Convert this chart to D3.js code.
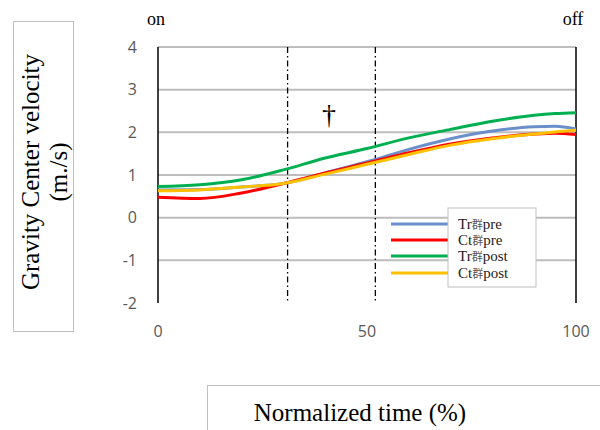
<!DOCTYPE html>
<html>
<head>
<meta charset="utf-8">
<script src="https://cdn.jsdelivr.net/npm/d3@7"></script>
<style>
  body { margin: 0; background: #fff; }
  svg { display: block; }
</style>
</head>
<body>
<div id="container"></div>
<script>
"use strict";

// normalized time (%) and mean velocity of each group (m/s)
var pct = [0, 10, 20, 30, 40, 50, 60, 70, 80, 90, 95, 100];
var trPre = [0.65, 0.66, 0.72, 0.80, 1.05, 1.31, 1.60, 1.85, 2.03, 2.13, 2.14, 2.08];
var ctPre = [0.48, 0.45, 0.58, 0.80, 1.05, 1.28, 1.52, 1.73, 1.87, 1.96, 1.98, 1.95];
var trPost = [0.73, 0.77, 0.89, 1.12, 1.40, 1.62, 1.87, 2.07, 2.26, 2.40, 2.44, 2.46];
var ctPost = [0.63, 0.65, 0.72, 0.80, 1.02, 1.25, 1.48, 1.70, 1.85, 1.96, 2.01, 2.05];

var seriesNames = ["Tr", "Ct", "Tr", "Ct"];
var seriesPhase = ["pre", "pre", "post", "post"];
var seriesColors = ["#6a8fcb", "#ff0000", "#00b050", "#ffc000"];
var yTicks = [-2, -1, 0, 1, 2, 3, 4];
var xTicks = [0, 50, 100];
var phaseLines = [31, 52];

var width = 600;
var height = 430;

var svg = d3.select("#container").append("svg")
    .attr("width", width).attr("height", height);

var x = d3.scaleLinear().domain([0, 100]).range([158, 576]);
var y = d3.scaleLinear().domain([-2, 4]).range([303, 47]);

// grid
svg.append("g").selectAll("line.grid").data(yTicks.filter(function (d) { return d > -2; }))
    .enter().append("line")
    .attr("x1", x(0)).attr("x2", x(100))
    .attr("y1", function (d) { return y(d); })
    .attr("y2", function (d) { return y(d); })
    .attr("stroke", "#bdbdbd").attr("stroke-width", 2);

// left axis and right border
svg.append("line").attr("x1", x(0)).attr("x2", x(0)).attr("y1", y(4)).attr("y2", y(-2))
    .attr("stroke", "#000").attr("stroke-width", 1.5);
svg.append("line").attr("x1", x(100)).attr("x2", x(100)).attr("y1", y(4)).attr("y2", y(-2))
    .attr("stroke", "#000").attr("stroke-width", 1.5);

// tick labels
svg.append("g").selectAll("text").data(yTicks).enter().append("text")
    .attr("x", 137).attr("y", function (d) { return y(d); })
    .attr("dy", "0.36em").attr("text-anchor", "end")
    .attr("font-family", "Open Sans, sans-serif").attr("font-size", 16)
    .attr("fill", "#595959")
    .text(function (d) { return d; });

svg.append("g").selectAll("text").data(xTicks).enter().append("text")
    .attr("x", function (d) { return x(d); }).attr("y", 337)
    .attr("text-anchor", "middle")
    .attr("font-family", "Open Sans, sans-serif").attr("font-size", 16)
    .attr("fill", "#595959")
    .text(function (d) { return d; });

// phase boundaries
svg.append("g").selectAll("line").data(phaseLines).enter().append("line")
    .attr("x1", function (d) { return x(d); }).attr("x2", function (d) { return x(d); })
    .attr("y1", y(4)).attr("y2", y(-2))
    .attr("stroke", "#000").attr("stroke-width", 1.3)
    .attr("stroke-dasharray", "6,3,1.5,3");

// curves
var allSeries = [trPre, ctPre, trPost, ctPost];
var line = d3.line()
    .x(function (d, i) { return x(pct[i]); })
    .y(function (d) { return y(d); })
    .curve(d3.curveMonotoneX);

var drawOrder = [2, 0, 1, 3];
drawOrder.forEach(function (k) {
    svg.append("path").attr("d", line(allSeries[k]))
        .attr("fill", "none").attr("stroke", seriesColors[k])
        .attr("stroke-width", 3);
});

// dagger
svg.append("text").attr("x", 329).attr("y", 124).attr("text-anchor", "middle")
    .attr("font-family", "Liberation Serif, serif").attr("font-size", 28)
    .text("\u2020");

// on / off
svg.append("text").attr("x", 156).attr("y", 25).attr("text-anchor", "middle")
    .attr("font-family", "Liberation Serif, serif").attr("font-size", 18).text("on");
svg.append("text").attr("x", 573).attr("y", 25).attr("text-anchor", "middle")
    .attr("font-family", "Liberation Serif, serif").attr("font-size", 18).text("off");

// legend
var legY = [224, 240, 256, 273];
svg.append("g").selectAll("line").data(seriesColors).enter().append("line")
    .attr("x1", 391).attr("x2", 450)
    .attr("y1", function (d, i) { return legY[i]; })
    .attr("y2", function (d, i) { return legY[i]; })
    .attr("stroke", function (d) { return d; }).attr("stroke-width", 3);

svg.append("rect").attr("x", 448).attr("y", 208).attr("width", 88).attr("height", 79)
    .attr("fill", "#fff").attr("stroke", "#bfbfbf").attr("stroke-width", 1);

seriesNames.forEach(function (n, i) {
    var t = svg.append("text").attr("x", 458).attr("y", legY[i] + 5)
        .attr("font-family", "Liberation Serif, serif").attr("font-size", 15)
        .attr("fill", "#222");
    t.append("tspan").text(n);
    t.append("tspan").attr("font-family", "Noto Sans CJK JP").attr("font-size", 11)
        .attr("fill", "#555").text("群");
    t.append("tspan").text(seriesPhase[i]);
});

// axis title boxes
svg.append("rect").attr("x", 13.5).attr("y", 21.5).attr("width", 60).attr("height", 310)
    .attr("fill", "none").attr("stroke", "#bfbfbf");
svg.append("text").attr("transform", "translate(39,172) rotate(-90)")
    .attr("text-anchor", "middle")
    .attr("font-family", "Liberation Serif, serif").attr("font-size", 25)
    .text("Gravity Center velocity");
svg.append("text").attr("transform", "translate(67,172) rotate(-90)")
    .attr("text-anchor", "middle")
    .attr("font-family", "Liberation Serif, serif").attr("font-size", 25)
    .text("(m./s)");

svg.append("rect").attr("x", 207.5).attr("y", 385.5).attr("width", 420).attr("height", 60)
    .attr("fill", "none").attr("stroke", "#bfbfbf");
svg.append("text").attr("x", 360).attr("y", 421).attr("text-anchor", "middle")
    .attr("font-family", "Liberation Serif, serif").attr("font-size", 25)
    .text("Normalized time (%)");
</script>
</body>
</html>
